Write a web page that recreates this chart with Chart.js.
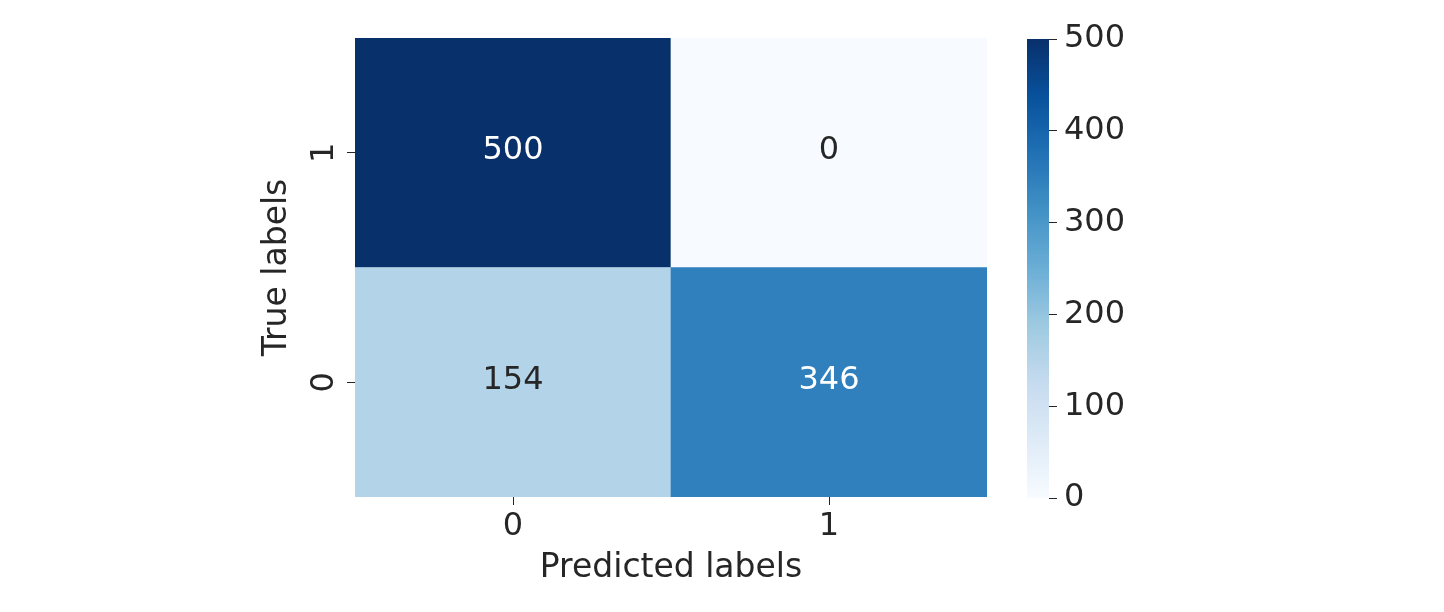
<!DOCTYPE html>
<html>
<head>
<meta charset="utf-8">
<script src="https://cdn.jsdelivr.net/npm/chart.js@4.4.0/dist/chart.umd.min.js"></script>
<style>
  html, body { margin: 0; padding: 0; background: #fff; }
  #wrap { position: relative; width: 1444px; height: 612px; }
  #matrix { position: absolute; left: 0; top: 0; }
  #colorbar { position: absolute; left: 1000px; top: 0; }
</style>
</head>
<body>
<div id="wrap">
  <canvas id="matrix" width="1000" height="612"></canvas>
  <canvas id="colorbar" width="444" height="612"></canvas>
</div>
<script>
  const predictedLabels = ['0', '1'];
  const trueLabels = ['0', '1'];
  // one array per true label, columns are predicted 0 / 1
  const trueZero = [154, 346];
  const trueOne = [500, 0];
  const colorbarTicks = [0, 100, 200, 300, 400, 500];
  const vmin = 0;
  const vmax = 500;

  const rows = [trueZero, trueOne];
  const textDark = '#262626';

  // matplotlib "Blues"
  const blues = ['#f7fbff', '#deebf7', '#c6dbef', '#9ecae1', '#6baed6', '#4292c6', '#2171b5', '#08519c', '#08306b'];

  function hexToRgb(h) {
    return [1, 3, 5].map(i => parseInt(h.substr(i, 2), 16));
  }

  function blueRgb(v) {
    const t = Math.min(Math.max((v - vmin) / (vmax - vmin), 0), 1) * (blues.length - 1);
    const i = Math.min(Math.floor(t), blues.length - 2);
    const f = t - i;
    const a = hexToRgb(blues[i]), b = hexToRgb(blues[i + 1]);
    return a.map((c, k) => Math.round(c + (b[k] - c) * f));
  }

  function blue(v) {
    const [r, g, b] = blueRgb(v);
    return `rgb(${r},${g},${b})`;
  }

  // same rule seaborn uses to pick annotation colour
  function textColorFor(v) {
    const lum = blueRgb(v).map(c => {
      c = c / 255;
      return c <= 0.03928 ? c / 12.92 : Math.pow((c + 0.055) / 1.055, 2.4);
    });
    const l = 0.2126 * lum[0] + 0.7152 * lum[1] + 0.0722 * lum[2];
    return l > 0.408 ? textDark : '#ffffff';
  }

  Chart.defaults.font.family = '"DejaVu Sans", sans-serif';
  Chart.defaults.color = textDark;

  const cellText = {
    id: 'cellText',
    afterDatasetsDraw(chart) {
      const ctx = chart.ctx;
      ctx.save();
      ctx.font = '32px "DejaVu Sans"';
      ctx.textAlign = 'center';
      ctx.textBaseline = 'middle';
      chart.data.datasets.forEach((ds, di) => {
        chart.getDatasetMeta(di).data.forEach((bar, i) => {
          const v = ds.values[i];
          ctx.fillStyle = textColorFor(v);
          ctx.fillText(String(v), bar.x, (bar.y + bar.base) / 2 - 2);
        });
      });
      ctx.restore();
    }
  };

  new Chart(document.getElementById('matrix'), {
    type: 'bar',
    data: {
      labels: predictedLabels,
      datasets: rows.map((vals, r) => ({
        values: vals,
        data: vals.map(() => [r, r + 1]),
        backgroundColor: vals.map(blue),
        borderWidth: 0,
        grouped: false,
        barPercentage: 1,
        categoryPercentage: 1
      }))
    },
    options: {
      responsive: false,
      animation: false,
      layout: { padding: { left: 240, right: 13, top: 38, bottom: 0 } },
      plugins: { legend: { display: false }, tooltip: { enabled: false } },
      scales: {
        x: {
          grid: { offset: false, drawOnChartArea: false, tickLength: 8, color: textDark },
          border: { display: false },
          ticks: { padding: 2, font: { size: 32 }, color: textDark },
          title: { display: true, text: 'Predicted labels', font: { size: 33 }, color: textDark, padding: { top: 0, bottom: 24 } },
          afterFit: s => { s.height = 115; }
        },
        y: {
          min: 0,
          max: trueLabels.length,
          afterBuildTicks: s => { s.ticks = trueLabels.map((_, i) => ({ value: i + 0.5 })); },
          grid: { drawOnChartArea: false, tickLength: 8, color: textDark },
          border: { display: false },
          ticks: {
            minRotation: 90,
            maxRotation: 90,
            crossAlign: 'center',
            padding: 12,
            font: { size: 32 },
            color: textDark,
            callback: v => trueLabels[Math.floor(v)]
          },
          title: { display: true, text: 'True labels', font: { size: 33 }, color: textDark, padding: { top: 18, bottom: 0 } },
          afterFit: s => { s.width = 115; }
        }
      }
    },
    plugins: [cellText]
  });

  new Chart(document.getElementById('colorbar'), {
    type: 'bar',
    data: {
      labels: [''],
      datasets: [{
        data: [[vmin, vmax]],
        borderWidth: 0,
        barPercentage: 1,
        categoryPercentage: 1,
        backgroundColor: ctx => {
          const chart = ctx.chart;
          if (!chart.chartArea) return blues[0];
          const y = chart.scales.y;
          const g = chart.ctx.createLinearGradient(0, y.getPixelForValue(vmin), 0, y.getPixelForValue(vmax));
          blues.forEach((c, i) => g.addColorStop(i / (blues.length - 1), c));
          return g;
        }
      }]
    },
    options: {
      responsive: false,
      animation: false,
      layout: { padding: { left: 27, right: 0, top: 39, bottom: 114 } },
      plugins: { legend: { display: false }, tooltip: { enabled: false } },
      scales: {
        x: { display: false },
        y: {
          position: 'right',
          min: vmin,
          max: vmax,
          afterBuildTicks: s => { s.ticks = colorbarTicks.map(v => ({ value: v })); },
          grid: { drawOnChartArea: false, tickLength: 8, color: textDark },
          border: { display: false },
          ticks: { padding: 7, font: { size: 32 }, color: textDark },
          afterFit: s => { s.width = 395; }
        }
      }
    }
  });
</script>
</body>
</html>
